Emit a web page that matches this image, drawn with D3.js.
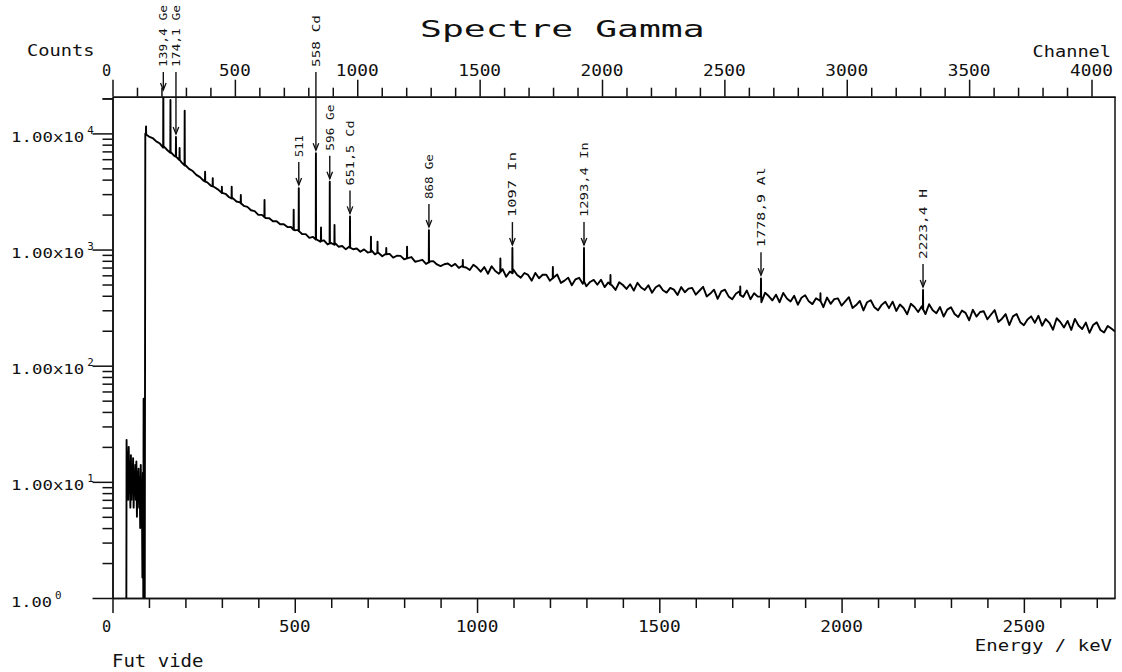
<!DOCTYPE html>
<html><head><meta charset="utf-8">
<script src="https://cdn.jsdelivr.net/npm/d3@7"></script>
<style>
body{margin:0;background:#fff}
svg{display:block}
text{font-family:"DejaVu Sans Mono",monospace;fill:#111}
</style>
</head><body><svg id="c" width="1122" height="672"></svg>
<script>
// ---------------- DATA ----------------
const title = "Spectre Gamma";
const footer = "Fut vide";
const channelTicks = [0, 500, 1000, 1500, 2000, 2500, 3000, 3500, 4000];
const energyTicks = [0, 500, 1000, 1500, 2000, 2500];
const countDecades = [1, 10, 100, 1000, 10000];
const decadeExponents = ["0", "1", "2", "3", "4"];

// low-energy noise region (keV, counts)
const lowEnergy = [38, 38.6, 40, 41.5, 43, 44.5, 46, 47.5, 49, 50.5, 52, 53.5, 55, 56.5, 58, 59.5, 61, 62.5, 64, 65.5,
                   67, 68.5, 70, 71.5, 73, 74.5, 76, 77.5, 79, 80.5, 82, 83.5, 84.5, 85.3, 86, 88.5];
const lowCounts = [1, 23, 9, 18, 7, 20, 8, 15, 6, 17, 7, 13, 9, 16, 6, 12, 8, 14, 7, 15,
                   5, 12, 8, 13, 6, 11, 4, 14, 7, 10, 1.5, 12, 1, 52, 1, 1];

// spectrum counts, 10 keV bins starting at 90 keV
const spectrumStartKeV = 90, spectrumBinKeV = 10;
const spectrumCounts = [
  9960, 9400, 9120, 8540, 8180, 7760, 7200, 6880, 6380, 6050,   // 90-180
  5600, 5320, 4950, 4740, 4390, 4200, 3910, 3790, 3540, 3440,   // 190-280
  3280, 3060, 3020, 2820, 2770, 2590, 2550, 2380, 2330, 2180,   // 290-380
  2140, 1990, 1990, 1870, 1860, 1750, 1750, 1650, 1650, 1560,   // 390-480
  1563, 1467, 1477, 1360, 1357, 1262, 1285, 1220, 1169, 1201,   // 490-580
  1106, 1137, 1141, 1058, 1074, 1004, 1061, 1006, 1022, 958,    // 590-680
  1003, 942, 987, 909, 934, 876, 919, 917, 852, 884,            // 690-780
  882, 824, 843, 862, 786, 798, 816, 752, 789, 795,             // 790-880
  744, 720, 747, 759, 719, 752, 695, 725, 700, 667,             // 890-980
  740, 700, 645, 706, 619, 718, 653, 620, 678, 583,             // 990-1080
  646, 671, 603, 573, 628, 605, 540, 629, 566, 607,             // 1090-1180
  607, 540, 575, 609, 516, 540, 573, 493, 554, 571,             // 1190-1280
  508, 483, 526, 548, 498, 550, 475, 521, 492, 449,             // 1290-1380
  523, 495, 458, 503, 443, 517, 471, 449, 493, 425,             // 1390-1480
  474, 494, 446, 426, 468, 452, 406, 475, 429, 461,             // 1490-1580
  468, 409, 442, 478, 395, 418, 451, 376, 437, 451,             // 1590-1680
  395, 373, 416, 438, 391, 444, 374, 420, 393, 352,             // 1690-1780
  424, 398, 365, 409, 352, 423, 379, 357, 400, 335,             // 1790-1880
  385, 404, 358, 339, 380, 364, 319, 386, 341, 374,             // 1890-1980
  380, 329, 358, 389, 314, 333, 361, 299, 352, 366,             // 1990-2080
  318, 300, 334, 355, 313, 356, 296, 336, 314, 277,             // 2090-2180
  341, 320, 290, 325, 278, 338, 300, 283, 320, 265,             // 2190-2280
  304, 319, 279, 263, 298, 285, 246, 303, 265, 290,             // 2290-2380
  294, 251, 276, 301, 238, 254, 278, 224, 266, 279,             // 2390-2480
  237, 223, 250, 266, 234, 269, 221, 252, 234, 204,             // 2490-2580
  256, 238, 213, 243, 203, 253, 222, 207, 235, 192,             // 2590-2680
  224, 236, 203, 193, 220, 209, 197                             // 2690-2750
];

// peaks: energy (keV), top counts, base counts
const peakEnergy = [92, 139.4, 159, 174.1, 184, 198, 254, 275, 300, 327, 352, 417, 497, 511, 558, 572, 596, 609, 651.5,
                    709, 727, 751, 808, 868, 961, 1064, 1097, 1208, 1293.4, 1366, 1722, 1778.9, 1942, 2223.4];
const peakTop = [11500, 30000, 19400, 9300, 7500, 15700, 4680, 4120, 3470, 3470, 2950, 2670, 2200, 3380, 6740, 1550, 3840, 1630, 1930,
                 1290, 1170, 1030, 1060, 1470, 815, 840, 1030, 710, 1030, 605, 480, 565, 420, 448];
const peakBase = [9800, 7550, 6800, 6300, 5900, 5300, 3850, 3500, 3080, 2750, 2500, 1900, 1480, 1440, 1220, 1180, 1130, 1100, 1040,
                  955, 940, 910, 840, 775, 710, 640, 625, 565, 530, 500, 405, 395, 360, 305];

// hand-written annotations
const annotEnergy = [139.4, 174.1, 558, 511, 596, 651.5, 868, 1097, 1293.4, 1778.9, 2223.4];
const annotText = ["139,4 Ge", "174,1 Ge", "558 Cd", "511", "596 Ge", "651,5 Cd", "868 Ge", "1097 In", "1293,4 In", "1778,9 Al", "2223,4 H"];

// ---------------- LAYOUT ----------------
const L = 112.5, R = 1115, T = 96.7, B = 598;
const annotLayout = [ // [labelLength, fixedTop]
  [62, true], [62, true], [52, true], [22, false], [46, false], [65, false],
  [45, false], [65, false], [75, false], [80, false], [70, false]
];

const svg = d3.select("#c");
const x = d3.scaleLinear().domain([0, 2750]).range([L, R]);
const xc = d3.scaleLinear().domain([0, 4096]).range([L, R]);
const y = d3.scaleLog().domain([1, 20700]).range([B, T]);

function txt(sel, s, px, py, size, charW, anchor) {
  return sel.append("text").text(s).attr("x", px).attr("y", py)
    .attr("font-size", size).attr("text-anchor", anchor || "start")
    .attr("textLength", s.length * charW - (charW * 0.18)).attr("lengthAdjust", "spacingAndGlyphs");
}

svg.append("defs").append("clipPath").attr("id", "pc")
  .append("rect").attr("x", L).attr("y", T).attr("width", R - L).attr("height", B - T);

// ---------- spectrum points ----------
let pts = lowEnergy.map((e, i) => [e, lowCounts[i]]);
spectrumCounts.forEach((c, i) => pts.push([spectrumStartKeV + i * spectrumBinKeV, c]));
peakEnergy.forEach((e, i) => {
  pts.push([e - 0.45, peakBase[i]]);
  pts.push([e, peakTop[i]]);
  pts.push([e + 0.45, peakBase[i]]);
});
pts.sort((a, b) => a[0] - b[0]);

const line = d3.line().x(d => x(d[0])).y(d => y(Math.max(1, d[1])));
svg.append("path").datum(pts).attr("clip-path", "url(#pc)")
  .attr("d", line).attr("fill", "none").attr("stroke", "#000")
  .attr("stroke-width", 1.9).attr("stroke-linejoin", "round");

// ---------- axes ----------
function styleAxis(gsel) {
  gsel.selectAll("path,line").attr("stroke", "#111").attr("stroke-width", 1.5);
  gsel.selectAll("text").remove();
}
const chMinor = d3.range(0, 4097, 100).filter(v => v % 500 !== 0);
const enMinor = d3.range(0, 2751, 100).filter(v => v % 500 !== 0);

svg.append("g").attr("transform", `translate(0,${T})`)
  .call(d3.axisTop(xc).tickValues(chMinor).tickSize(9).tickSizeOuter(0)).call(styleAxis);
svg.append("g").attr("transform", `translate(0,${T})`)
  .call(d3.axisTop(xc).tickValues(channelTicks).tickSize(17).tickSizeOuter(0)).call(styleAxis);

svg.append("g").attr("transform", `translate(0,${B})`)
  .call(d3.axisBottom(x).tickValues(enMinor).tickSize(10).tickSizeOuter(0)).call(styleAxis);
svg.append("g").attr("transform", `translate(0,${B})`)
  .call(d3.axisBottom(x).tickValues(energyTicks).tickSize(15).tickSizeOuter(0)).call(styleAxis);

const yMinor = [];
countDecades.forEach(d => { for (let k = 2; k <= 9; k++) if (d * k <= 20700) yMinor.push(d * k); });
yMinor.push(20000);
svg.append("g").attr("transform", `translate(${L},0)`)
  .call(d3.axisLeft(y).tickValues(yMinor).tickSize(10).tickSizeOuter(0)).call(styleAxis);
svg.append("g").attr("transform", `translate(${L},0)`)
  .call(d3.axisLeft(y).tickValues(countDecades).tickSize(20).tickSizeOuter(0)).call(styleAxis);

svg.append("line").attr("x1", R).attr("x2", R).attr("y1", T).attr("y2", B)
  .attr("stroke", "#111").attr("stroke-width", 1.5);

// ---------- labels ----------
channelTicks.forEach(v => txt(svg, String(v), xc(v) - (v === 0 ? 6 : 0), 76, 15, 11.2, "middle"));
energyTicks.forEach(v => txt(svg, String(v), x(v) - (v === 0 ? 6 : 0), 632, 15, 11.2, "middle"));

countDecades.forEach((d, i) => {
  const ty = y(d);
  const main = i === 0 ? "1.00" : "1.00x10";
  txt(svg, main, 11, ty + 8.5, 13.5, 10.75);
  const w = main.length * 10.75;
  txt(svg, decadeExponents[i], 11 + w + 1, ty + 0.5, 11, 8);
});

txt(svg, "Counts", 27, 56, 15, 11.6);
txt(svg, "Channel", 1111, 56.5, 15, 11.5, "end");
txt(svg, "Energy / keV", 1112, 651, 15, 11.6, "end");
txt(svg, footer, 112, 667, 17, 11.7);
txt(svg, title, 420, 36.7, 23, 22.2);

// ---------- annotations ----------
const ag = svg.append("g");
annotEnergy.forEach((e, i) => {
  const px = x(e);
  const pi = peakEnergy.indexOf(e);
  const topY = y(peakTop[pi]);
  const [len, fixed] = annotLayout[i];
  let head, a0;
  if (fixed) { head = Math.max(topY - 3, 90); a0 = 72; }
  else { head = topY - 3; a0 = head - 23; }
  ag.append("line").attr("x1", px).attr("x2", px).attr("y1", a0).attr("y2", head)
    .attr("stroke", "#111").attr("stroke-width", 1.4);
  ag.append("path").attr("d", `M${px - 2.8},${head - 7}L${px},${head}L${px + 2.8},${head - 7}`)
    .attr("fill", "none").attr("stroke", "#111").attr("stroke-width", 1.3);
  const ly = a0 - 5;
  ag.append("text").text(annotText[i])
    .attr("transform", `translate(${px + 4},${ly}) rotate(-90)`)
    .attr("font-family", "DejaVu Sans").attr("font-size", 11)
    .attr("textLength", len).attr("lengthAdjust", "spacingAndGlyphs");
});
</script>
</body></html>
